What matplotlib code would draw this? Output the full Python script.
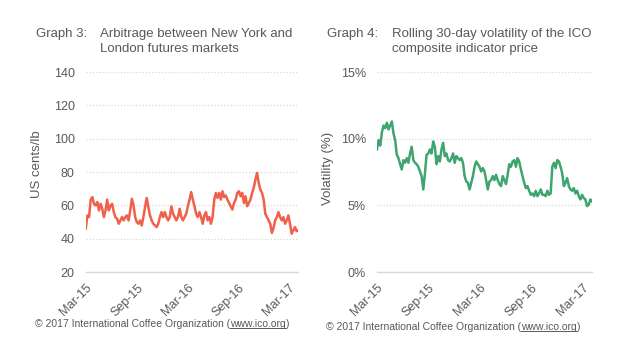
import numpy as np
import pandas as pd
import matplotlib
matplotlib.use('Agg')
import matplotlib.pyplot as plt
import matplotlib.dates as mdates
from matplotlib.ticker import PercentFormatter

plt.rcParams['font.family'] = ['Liberation Sans', 'DejaVu Sans']

# --- data -------------------------------------------------------------------
START = '2015-03-01'
END = '2017-04-05'

# NY - London arbitrage, US cents/lb
arbitrage = [
    46, 54, 53, 63.5, 65, 61, 60, 62, 57, 61, 58, 53, 57, 63.5, 57, 60, 61, 56,
    53, 52, 49, 51, 53, 51, 53, 54, 51, 57, 64, 60, 53, 50, 49, 51, 48, 53,
    59, 64.5, 59, 54, 51, 49, 48, 47, 49, 53, 56, 53, 56, 53, 51, 53, 59.5, 55,
    53, 51, 53, 58, 53, 51, 53, 55, 59.5, 63.5, 68, 63.5, 59.5, 55, 53, 56, 53,
    49, 54, 56, 51, 53, 49, 53, 63.5, 67.5, 64.5, 67.5, 63.5, 68.5, 65, 66,
    63.5, 61.5, 59.5, 57.5, 61.5, 63.5, 67.5, 68.5, 65.5, 67.5, 61.5, 65.5,
    59.5, 61.5, 63.5, 67.5, 70.5, 75.5, 79.5, 73.5, 69.5, 67.5, 63.5, 55, 53,
    51, 49, 43.5, 46.5, 51, 53, 56, 53, 51, 53, 49, 51, 54, 49, 43, 45, 47,
    44.5, 45,
]

# rolling 30-day volatility of the ICO composite indicator price, %
volatility = [
    9.2, 9.9, 9.5, 10.5, 11.0, 10.8, 11.2, 10.7, 11.0, 11.3, 10.4, 9.9, 8.8,
    8.55, 8.1, 7.7, 8.4, 8.2, 8.55, 8.2, 8.9, 9.4, 8.4, 8.2, 8.1, 7.9, 7.55,
    7.2, 6.2, 7.4, 8.8, 8.9, 9.2, 8.9, 9.8, 9.4, 8.1, 8.7, 8.3, 9.2, 9.7, 8.7,
    8.9, 8.4, 8.3, 8.55, 8.9, 8.2, 8.7, 8.55, 8.4, 8.55, 8.2, 7.2, 6.8, 6.7,
    6.2, 6.7, 7.2, 7.9, 8.3, 8.1, 7.9, 7.55, 7.8, 7.55, 6.9, 6.2, 6.8, 6.9,
    7.2, 6.9, 7.3, 6.9, 6.6, 6.45, 7.2, 6.9, 6.6, 7.3, 8.1, 7.9, 8.3, 8.4,
    7.9, 8.55, 8.3, 7.7, 7.2, 6.7, 6.3, 6.45, 6.1, 5.8, 5.9, 5.7, 6.1, 5.7,
    5.9, 6.2, 5.8, 5.8, 5.7, 6.1, 5.8, 5.9, 7.9, 8.2, 7.8, 8.4, 8.3, 7.9, 7.4,
    6.45, 6.7, 7.05, 6.45, 6.2, 6.1, 6.3, 5.9, 6.1, 5.7, 5.45, 5.8, 5.55,
    5.45, 4.95, 5.05, 5.45, 5.3,
]

TICK_DATES = ['2015-03-01', '2015-09-01', '2016-03-01', '2016-09-01', '2017-03-01']

TXT = '#595959'
GRID = '#d9d9d9'
RED = '#f0604a'
GREEN = '#3fa56f'
COPY = '\u00a9 2017 International Coffee Organization ('
W, H = 640, 347


def style_axes(ax, line_color, values, ylim, yticks):
    dates = pd.date_range(START, END, periods=len(values))
    ax.plot(dates, values, color=line_color, lw=1.8, solid_joinstyle='round')
    ax.set_xlim(pd.Timestamp(START), pd.Timestamp(END))
    ax.set_ylim(*ylim)
    ax.set_yticks(yticks)
    ax.set_xticks(pd.to_datetime(TICK_DATES))
    ax.xaxis.set_major_formatter(mdates.DateFormatter('%b-%y'))
    ax.grid(axis='y', color=GRID, lw=0.9, ls=(0, (1, 1.5)))
    ax.grid(axis='x', visible=False)
    for s in ['top', 'right', 'left']:
        ax.spines[s].set_visible(False)
    ax.spines['bottom'].set_color(GRID)
    ax.spines['bottom'].set_linewidth(1.0)
    ax.tick_params(length=0, colors=TXT, labelsize=9)
    ax.tick_params(axis='y', pad=8)
    ax.tick_params(axis='x', pad=7)
    for lab in ax.get_xticklabels():
        lab.set_rotation(45)
        lab.set_ha('right')
        lab.set_rotation_mode('anchor')


fig = plt.figure(figsize=(6.4, 3.47), dpi=100)

ax1 = fig.add_axes([0.134, 0.216, 0.332, 0.576])
style_axes(ax1, RED, arbitrage, (20, 140), range(20, 141, 20))

ax2 = fig.add_axes([0.589, 0.216, 0.336, 0.576])
style_axes(ax2, GREEN, volatility, (0, 15), [0, 5, 10, 15])
ax2.yaxis.set_major_formatter(PercentFormatter(decimals=0))

# titles, one text per line
titles = [
    (36, 100, 'Graph 3:', ['Arbitrage between New York and', 'London futures markets']),
    (327, 392, 'Graph 4:', ['Rolling 30-day volatility of the ICO', 'composite indicator price']),
]
for xg, xt, head, lines in titles:
    fig.text(xg / W, 1 - 34 / H, head, color=TXT, fontsize=9.5, va='center')
    for i, line in enumerate(lines):
        fig.text(xt / W, 1 - (34 + 15 * i) / H, line, color=TXT, fontsize=9.5, va='center')

# axis labels
fig.text(37 / W, 1 - 164 / H, 'US cents/lb', color=TXT, fontsize=9.5,
         rotation=90, ha='center', va='center')
fig.text(328 / W, 1 - 168 / H, 'Volatility (%)', color=TXT, fontsize=9.5,
         rotation=90, ha='center', va='center')

# copyright lines with underlined link
for x0, y0 in [(35, 324), (326, 327)]:
    t = fig.text(x0 / W, 1 - y0 / H, COPY, color=TXT, fontsize=7.5, va='center')
    fig.canvas.draw()
    bb = t.get_window_extent()
    link = fig.text(bb.x1 / W, 1 - y0 / H, 'www.ico.org', color=TXT, fontsize=7.5,
                    va='center')
    fig.canvas.draw()
    lb = link.get_window_extent()
    fig.add_artist(plt.Line2D([lb.x0 / W, lb.x1 / W],
                              [(lb.y0 + 1) / H, (lb.y0 + 1) / H],
                              color=TXT, lw=0.7, transform=fig.transFigure))
    fig.text(lb.x1 / W, 1 - y0 / H, ')', color=TXT, fontsize=7.5, va='center')

fig.savefig('out.png', dpi=100, facecolor='white')
